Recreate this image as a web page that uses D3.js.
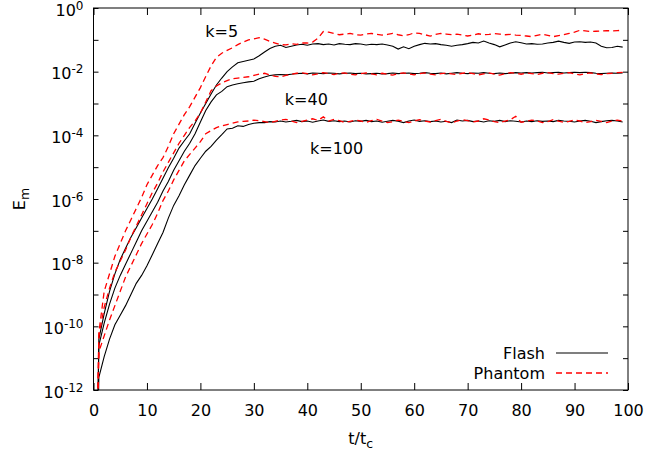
<!DOCTYPE html>
<html>
<head>
<meta charset="utf-8">
<script src="https://cdn.jsdelivr.net/npm/d3@7"></script>
<style>
  body { margin: 0; background: #fff; }
  svg { display: block; font-family: "DejaVu Sans", sans-serif; }
</style>
</head>
<body>
<div id="chart"></div>
<script>
// Magnetic energy growth, Flash vs Phantom, for three forcing wavenumbers.
// Values are log10(E_m) at each t/t_c.

const times = [0,1,2,3,4,5,6,7,8,9,10,11,12,13,14,15,16,17,18,19,20,21,22,23,24,25,26,27,28,29,
  30,31,32,33,34,35,36,37,38,39,40,41,42,43,44,45,46,47,48,49,50,51,52,53,54,55,56,57,58,59,
  60,61,62,63,64,65,66,67,68,69,70,71,72,73,74,75,76,77,78,79,80,81,82,83,84,85,86,87,88,89,
  90,91,92,93,94,95,96,97,98,99];

const flashK5 = [-22,
  -10.4, -9.6, -8.9, -8.35, -7.9, -7.55, -7.2, -6.9, -6.6, -6.3,
  -6.0, -5.68, -5.35, -5.02, -4.72, -4.4, -4.17, -3.95, -3.62, -3.3,
  -3.0, -2.7, -2.42, -2.2, -2.0, -1.85, -1.72, -1.68, -1.64, -1.6,
  -1.5, -1.38, -1.27, -1.2, -1.17, -1.24, -1.2, -1.16, -1.14, -1.17,
  -1.13, -1.12, -1.15, -1.13, -1.16, -1.12, -1.14, -1.15, -1.12, -1.13,
  -1.16, -1.14, -1.15, -1.13, -1.16, -1.2, -1.29, -1.22, -1.28, -1.2,
  -1.15, -1.11, -1.13, -1.12, -1.15, -1.17, -1.2, -1.17, -1.15, -1.12,
  -1.08, -1.1, -1.04, -1.1, -1.15, -1.22, -1.16, -1.1, -1.06, -1.09,
  -1.13, -1.12, -1.14, -1.13, -1.1, -1.08, -1.04, -1.08, -1.11, -1.07,
  -1.06, -1.08, -1.07, -1.1, -1.2, -1.25, -1.24, -1.2, -1.23];

const phantomK5 = [-22,
  -10.2, -8.9, -8.35, -7.8, -7.4, -7.0, -6.65, -6.3, -5.95, -5.55,
  -5.25, -4.95, -4.7, -4.35, -3.95, -3.65, -3.35, -3.1, -2.8, -2.5,
  -2.15, -1.82, -1.55, -1.42, -1.33, -1.25, -1.15, -1.07, -1.0, -0.97,
  -0.93, -0.98, -1.05, -1.1, -1.15, -1.16, -1.12, -1.14, -1.1, -1.1,
  -1.07, -0.95, -0.74, -0.76, -0.8, -0.84, -0.82, -0.8, -0.84, -0.85,
  -0.82, -0.8, -0.83, -0.85, -0.83, -0.8, -0.84, -0.87, -0.84, -0.78,
  -0.8, -0.84, -0.88, -0.83, -0.8, -0.82, -0.84, -0.82, -0.85, -0.88,
  -0.85, -0.81, -0.84, -0.83, -0.8, -0.82, -0.84, -0.83, -0.85, -0.86,
  -0.88, -0.9, -0.86, -0.82, -0.86, -0.9, -0.87, -0.84, -0.8, -0.76,
  -0.7, -0.72, -0.74, -0.73, -0.72, -0.71, -0.72, -0.71, -0.7];

const flashK40 = [-22,
  -10.6, -9.9, -9.3, -8.8, -8.4, -8.05, -7.7, -7.35, -7.0, -6.7,
  -6.4, -6.1, -5.75, -5.45, -5.1, -4.8, -4.5, -4.25, -3.95, -3.58,
  -3.22, -2.95, -2.73, -2.62, -2.47, -2.42, -2.38, -2.35, -2.32, -2.3,
  -2.22, -2.17, -2.12, -2.1, -2.09, -2.1, -2.08, -2.06, -2.05, -2.07,
  -2.04, -2.05, -2.06, -2.04, -2.05, -2.07, -2.05, -2.04, -2.06, -2.05,
  -2.07, -2.06, -2.05, -2.07, -2.06, -2.04, -2.06, -2.05, -2.04, -2.06,
  -2.05, -2.03, -2.05, -2.06, -2.04, -2.07, -2.05, -2.03, -2.05, -2.06,
  -2.04, -2.05, -2.03, -2.05, -2.06, -2.04, -2.06, -2.05, -2.03, -2.04,
  -2.03, -2.04, -2.03, -2.02, -2.04, -2.03, -2.02, -2.04, -2.03, -2.02,
  -2.03, -2.02, -2.03, -2.05, -2.06, -2.05, -2.04, -2.05, -2.04];

const phantomK40 = [-22,
  -10.3, -9.4, -8.8, -8.3, -7.95, -7.6, -7.2, -6.85, -6.5, -6.15,
  -5.8, -5.5, -5.15, -4.85, -4.55, -4.25, -4.0, -3.75, -3.55, -3.3,
  -2.95, -2.6, -2.45, -2.35, -2.28, -2.22, -2.2, -2.18, -2.16, -2.12,
  -2.08, -2.05, -2.1, -2.15, -2.16, -2.12, -2.08, -2.05, -2.04, -2.06,
  -2.1, -2.07, -2.03, -2.06, -2.09, -2.05, -2.04, -2.08, -2.1, -2.06,
  -2.04, -2.07, -2.1, -2.05, -2.08, -2.11, -2.06, -2.04, -2.07, -2.1,
  -2.06, -2.04, -2.08, -2.1, -2.06, -2.04, -2.07, -2.09, -2.05, -2.03,
  -2.06, -2.1, -2.07, -2.04, -2.08, -2.11, -2.06, -2.03, -2.05, -2.08,
  -2.04, -2.06, -2.09, -2.05, -2.03, -2.06, -2.08, -2.05, -2.03, -2.07,
  -2.1, -2.06, -2.04, -2.07, -2.09, -2.06, -2.05, -2.03, -2.02];

const flashK100 = [-22,
  -11.6, -10.95, -10.4, -9.95, -9.65, -9.35, -9.0, -8.65, -8.4, -8.1,
  -7.75, -7.4, -7.05, -6.6, -6.2, -5.9, -5.55, -5.25, -4.95, -4.72,
  -4.5, -4.35, -4.15, -3.98, -3.8, -3.78, -3.7, -3.72, -3.66, -3.62,
  -3.6, -3.6, -3.57, -3.58, -3.55, -3.58, -3.56, -3.53, -3.57, -3.55,
  -3.59, -3.55, -3.52, -3.56, -3.54, -3.57, -3.55, -3.58, -3.54, -3.56,
  -3.53, -3.57, -3.55, -3.59, -3.56, -3.53, -3.56, -3.6, -3.55, -3.52,
  -3.56, -3.54, -3.57, -3.55, -3.58, -3.56, -3.6, -3.52, -3.55, -3.53,
  -3.57, -3.55, -3.58, -3.54, -3.56, -3.53, -3.57, -3.54, -3.56, -3.58,
  -3.55, -3.57, -3.54, -3.56, -3.55, -3.57, -3.53, -3.55, -3.56, -3.58,
  -3.55, -3.53, -3.56, -3.6, -3.57, -3.54, -3.53, -3.55, -3.58];

const phantomK100 = [-22,
  -10.8, -10.3, -9.8, -9.35, -8.9, -8.45, -8.1, -7.75, -7.4, -7.1,
  -6.8, -6.45, -6.05, -5.75, -5.4, -5.1, -4.8, -4.6, -4.4, -4.2,
  -3.95, -3.85, -3.76, -3.7, -3.66, -3.62, -3.58, -3.56, -3.55, -3.52,
  -3.54, -3.57, -3.6, -3.56, -3.52, -3.5, -3.55, -3.6, -3.56, -3.52,
  -3.48, -3.53, -3.42, -3.55, -3.5, -3.54, -3.6, -3.56, -3.52, -3.55,
  -3.59, -3.54, -3.5, -3.55, -3.6, -3.57, -3.52, -3.56, -3.6, -3.55,
  -3.51, -3.55, -3.58, -3.54, -3.5, -3.56, -3.61, -3.55, -3.51, -3.54,
  -3.58, -3.55, -3.48, -3.52, -3.57, -3.6, -3.55, -3.51, -3.4, -3.59,
  -3.56, -3.52, -3.55, -3.6, -3.57, -3.51, -3.55, -3.59, -3.56, -3.52,
  -3.55, -3.6, -3.57, -3.53, -3.56, -3.6, -3.55, -3.52, -3.55];

const xTicks = [0, 10, 20, 30, 40, 50, 60, 70, 80, 90, 100];
const yExponents = [0, -1, -2, -3, -4, -5, -6, -7, -8, -9, -10, -11, -12];
const seriesNames = ["Flash", "Phantom"];
const curveLabels = ["k=5", "k=40", "k=100"];

const width = 671, height = 454,
      margin = ({ top: 8, right: 43, bottom: 64, left: 93.5 });

const svg = d3.select("#chart")
  .append("svg")
  .attr("width", width)
  .attr("height", height)
  .attr("viewBox", [0, 0, width, height]);

const x = d3.scaleLinear()
  .domain([0, 100])
  .range([margin.left, width - margin.right]);

const y = d3.scaleLog()
  .domain([1e-12, 1])
  .range([height - margin.bottom, margin.top]);

svg.append("clipPath").attr("id", "plot")
  .append("rect")
  .attr("x", x(0)).attr("y", y(1))
  .attr("width", x(100) - x(0)).attr("height", y(1e-12) - y(1));

// ticks point inwards on all four sides
const decades = yExponents.map(e => Math.pow(10, e));

const xAxis = svg.append("g")
  .attr("transform", `translate(0,${y(1e-12)})`)
  .call(d3.axisBottom(x).tickValues(xTicks).tickSizeInner(-7).tickSizeOuter(0).tickPadding(15));

svg.append("g")
  .attr("transform", `translate(0,${y(1)})`)
  .call(d3.axisTop(x).tickValues(xTicks).tickSizeInner(-7).tickSizeOuter(0).tickFormat(""));

const yAxis = svg.append("g")
  .attr("transform", `translate(${x(0)},0)`)
  .call(d3.axisLeft(y).tickValues(decades).tickSizeInner(-5).tickSizeOuter(0).tickPadding(10).tickFormat(""));

svg.append("g")
  .attr("transform", `translate(${x(100)},0)`)
  .call(d3.axisRight(y).tickValues(decades).tickSizeInner(-5).tickSizeOuter(0).tickFormat(""));

svg.selectAll(".domain").remove();
svg.selectAll(".tick line").attr("stroke", "#000");

xAxis.selectAll("text")
  .attr("font-size", 16)
  .attr("font-family", "DejaVu Sans")
  .attr("fill", "#000");

// labels 10^n on every second decade
yAxis.selectAll(".tick text")
  .attr("font-size", 16)
  .attr("font-family", "DejaVu Sans")
  .attr("fill", "#000")
  .attr("dy", "0.45em")
  .each(function(d) {
    const e = Math.round(Math.log10(d));
    if (e % 2 !== 0) return;
    const t = d3.select(this);
    t.append("tspan").text("10");
    t.append("tspan").attr("font-size", 12).attr("dy", -6).text(e);
  });

// frame
svg.append("rect")
  .attr("x", x(0)).attr("y", y(1))
  .attr("width", x(100) - x(0)).attr("height", y(1e-12) - y(1))
  .attr("fill", "none")
  .attr("stroke", "#000")
  .attr("stroke-width", 1);

const line = d3.line()
  .x((d, i) => x(times[i]))
  .y(d => y(Math.pow(10, d)));

const curves = svg.append("g").attr("clip-path", "url(#plot)");

for (const s of [flashK100, flashK40, flashK5]) {
  curves.append("path")
    .attr("d", line(s))
    .attr("fill", "none")
    .attr("stroke", "#000")
    .attr("stroke-width", 1.1);
}

for (const s of [phantomK100, phantomK40, phantomK5]) {
  curves.append("path")
    .attr("d", line(s))
    .attr("fill", "none")
    .attr("stroke", "#ff0000")
    .attr("stroke-width", 1.3)
    .attr("stroke-dasharray", "6,4");
}

// curve labels
const labelAt = [[20.9, -0.91], [35.8, -3.05], [40.5, -4.59]];
svg.selectAll(".klabel")
  .data(curveLabels)
  .join("text")
  .attr("class", "klabel")
  .attr("x", (d, i) => x(labelAt[i][0]))
  .attr("y", (d, i) => y(Math.pow(10, labelAt[i][1])))
  .attr("font-size", 16)
  .text(d => d);

// axis titles
const yTitle = svg.append("text")
  .attr("transform", `translate(25,${(y(1) + y(1e-12)) / 2}) rotate(-90)`)
  .attr("text-anchor", "middle")
  .attr("font-size", 16);
yTitle.append("tspan").text("E");
yTitle.append("tspan").attr("font-size", 12.5).attr("dy", 4).text("m");

const xTitle = svg.append("text")
  .attr("x", (x(0) + x(100)) / 2)
  .attr("y", 444)
  .attr("text-anchor", "middle")
  .attr("font-size", 16);
xTitle.append("tspan").text("t/t");
xTitle.append("tspan").attr("font-size", 12.5).attr("dy", 4).text("c");

// legend
const legend = svg.append("g").attr("transform", "translate(0,353)");
seriesNames.forEach((name, i) => {
  const g = legend.append("g").attr("transform", `translate(0,${i * 20})`);
  g.append("text")
    .attr("x", 545).attr("y", 5.5)
    .attr("text-anchor", "end")
    .attr("font-size", 16)
    .text(name);
  g.append("line")
    .attr("x1", 556).attr("x2", 608)
    .attr("stroke", i === 0 ? "#000" : "#ff0000")
    .attr("stroke-width", i === 0 ? 1.1 : 1.3)
    .attr("stroke-dasharray", i === 0 ? null : "6,4");
});
</script>
</body>
</html>
